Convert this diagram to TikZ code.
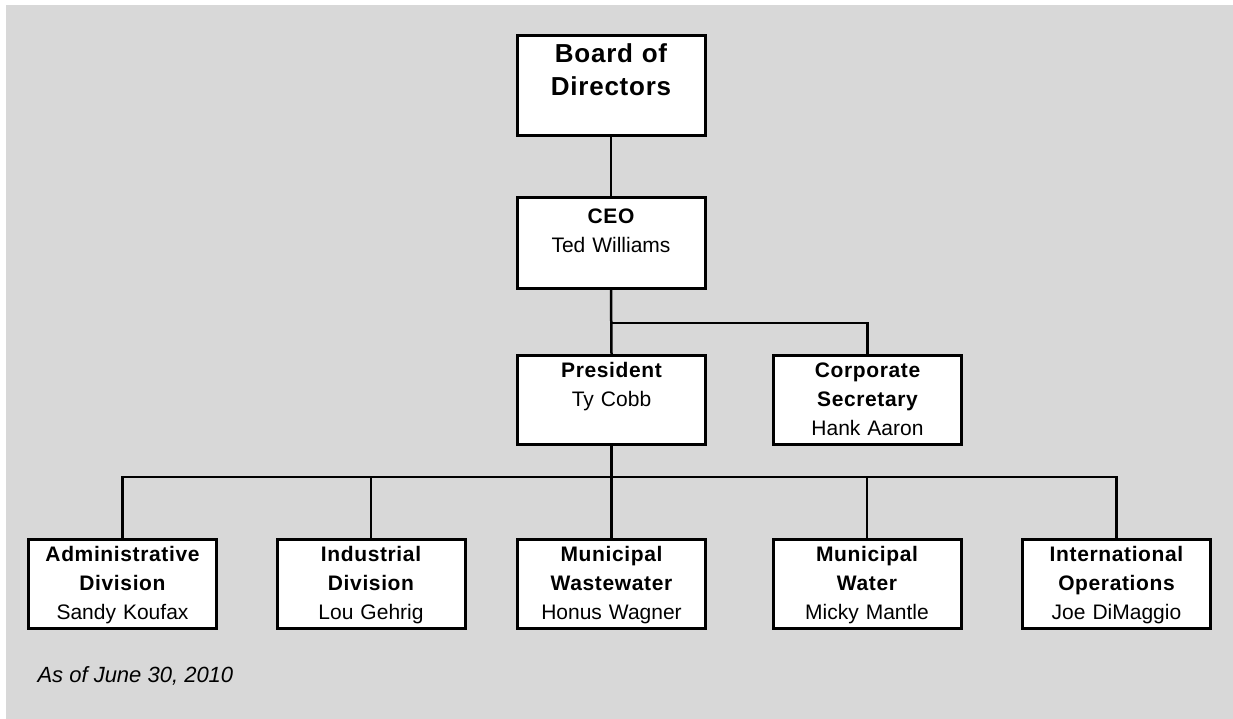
\documentclass[tikz,border=0pt]{standalone}
\usepackage{fontspec}
\setmainfont{Liberation Sans}[BoldFeatures={LetterSpace=3}]
\usepackage{tikz}
\usetikzlibrary{calc}
\definecolor{chartgray}{RGB}{216,216,216}

\begin{document}
\begin{tikzpicture}[
    x=1pt, y=-1pt,
    orgbox/.style 2 args={
        draw, line width=3pt, fill=white,
        anchor=north, inner sep=0pt,
        minimum width=188pt, text width=184pt, align=center,
        text height=#1, text depth=#2,
        font=\fontsize{21}{29}\selectfont
      },
    link/.style={line width=2.5pt}
  ]
  % background
  \useasboundingbox (0,0) rectangle (1233,719);
  \fill[chartgray] (6,5) rectangle (1233,719);

  % board and CEO
  \node[orgbox={27pt}{73pt}, font=\fontsize{26}{33}\selectfont\bfseries\addfontfeature{LetterSpace=0}] (board) at (611,34) {Board of\\Directors};
  \node[orgbox={26pt}{65pt}] (ceo) at (611,196) {{\bfseries CEO}\\Ted Williams};

  % second level
  \node[orgbox={22pt}{67pt}] (president) at (611.5,354) {{\bfseries President}\\Ty Cobb};
  \node[orgbox={22pt}{67pt}] (corp) at (867.5,354) {{\bfseries Corporate\\Secretary}\\Hank Aaron};

  % divisions
  \node[orgbox={22pt}{67pt}] (admin) at (122.5,538) {{\bfseries Administrative\\Division}\\Sandy Koufax};
  \node[orgbox={22pt}{67pt}] (industrial) at (371,538) {{\bfseries Industrial\\Division}\\Lou Gehrig};
  \node[orgbox={22pt}{67pt}] (wastewater) at (611.5,538) {{\bfseries Municipal\\Wastewater}\\Honus Wagner};
  \node[orgbox={22pt}{67pt}] (water) at (867,538) {{\bfseries Municipal\\Water}\\Micky Mantle};
  \node[orgbox={22pt}{67pt}] (intl) at (1116.5,538) {{\bfseries International\\Operations}\\Joe DiMaggio};

  % connectors
  \coordinate (ceojoin) at (ceo.south |- 0,323);
  \coordinate (bus) at (president.south |- 0,477);
  \draw[link] (board.south) -- (ceo.north);
  \draw[link] (ceo.south) -- (president.north);
  \draw[link] (ceojoin) -| (corp.north);
  \draw[link] (president.south) -- (wastewater.north);
  \foreach \n in {admin,industrial,water,intl}
    \draw[link] (bus) -| (\n.north);

  % date note
  \node[anchor=base west, font=\fontsize{22}{26}\selectfont\itshape] (asof) at (34,682) {As of June 30, 2010};
\end{tikzpicture}
\end{document}
